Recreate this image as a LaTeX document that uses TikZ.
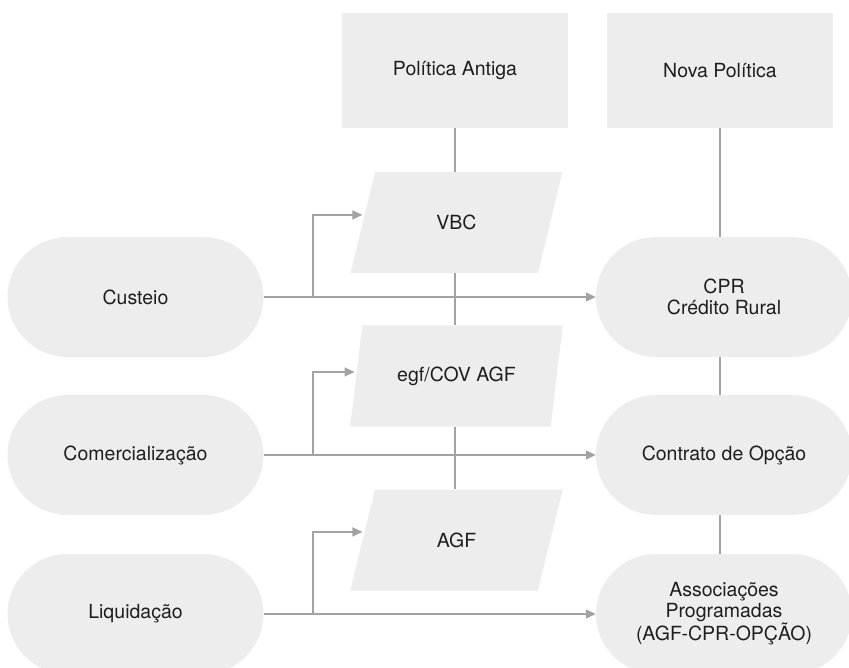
\documentclass[tikz,border=0pt]{standalone}
\usepackage{fontspec}
\setmainfont{TeX Gyre Heros}
\usetikzlibrary{shapes.geometric,shapes.misc,arrows.meta,calc}
\definecolor{boxfill}{HTML}{EDEDED}
\definecolor{linegray}{HTML}{A3A3A3}
\definecolor{txt}{HTML}{1E1E1E}
\begin{document}
\begin{tikzpicture}[x=1pt,y=-1pt,
  base/.style={fill=boxfill, draw=none, text=txt,
    font=\fontsize{19.5}{21}\selectfont, align=center, inner sep=0pt},
  header/.style={base, rectangle, minimum width=226pt, minimum height=115pt},
  stage/.style={base, rounded rectangle, minimum width=256pt, minimum height=120pt},
  inst/.style={base, trapezium, trapezium left angle=68, trapezium right angle=112,
    trapezium stretches=true, minimum width=213pt, minimum height=101pt},
  link/.style={draw=linegray, line width=1.3pt},
  flow/.style={link, -{Triangle[length=10pt,width=9pt]}},
]
\useasboundingbox (0,0) rectangle (849,668);
\clip (0,0) rectangle (849,668);

% column headers
\node[header] (pa) at (455,70.5) {Política Antiga};
\node[header] (np) at (720,70.5) {Nova Política};

% old policy instruments
\node[inst] (vbc) at (456.5,222.5) {VBC};
\node[inst] (egf) at (456.5,376) {egf/COV AGF};
\node[inst] (agf) at (456.5,540) {AGF};

% stages
\node[stage] (cust) at (135.5,297) {Custeio};
\node[stage] (com)  at (135.5,455) {Comercialização};
\node[stage] (liq)  at (135.5,614) {Liquidação};

% new policy instruments
\node[stage] (cpr)   at (724,297) {CPR\\Crédito Rural};
\node[stage] (opc)   at (724,455) {Contrato de Opção};
\node[stage] (assoc) at (724,614) {Associações\\Programadas\\(AGF-CPR-OPÇÃO)};

% vertical chains
\draw[link] (pa.south) -- (pa.south |- vbc.north);
\draw[link] (pa.south |- vbc.south) -- (pa.south |- egf.north);
\draw[link] (pa.south |- egf.south) -- (pa.south |- agf.north);
\draw[link] (np.south) -- (np.south |- cpr.north);
\draw[link] (np.south |- cpr.south) -- (np.south |- opc.north);
\draw[link] (np.south |- opc.south) -- (np.south |- assoc.north);

% branch points on the stage lines
\coordinate (j1) at (313,297);
\coordinate (j2) at (313,455);
\coordinate (j3) at (313,614);
% entry points on the slanted left sides
\coordinate (e1) at ($(vbc.bottom left corner)!0.575!(vbc.top left corner)$);
\coordinate (e2) at ($(egf.bottom left corner)!0.54!(egf.top left corner)$);
\coordinate (e3) at ($(agf.bottom left corner)!0.58!(agf.top left corner)$);

% flows from each stage
\draw[flow] (cust.east) -- (cpr.west);
\draw[flow, shorten >=2pt] (j1) |- (e1);
\draw[flow] (com.east) -- (opc.west);
\draw[flow, shorten >=2pt] (j2) |- (e2);
\draw[flow] (liq.east) -- (assoc.west);
\draw[flow, shorten >=2pt] (j3) |- (e3);
\end{tikzpicture}
\end{document}
